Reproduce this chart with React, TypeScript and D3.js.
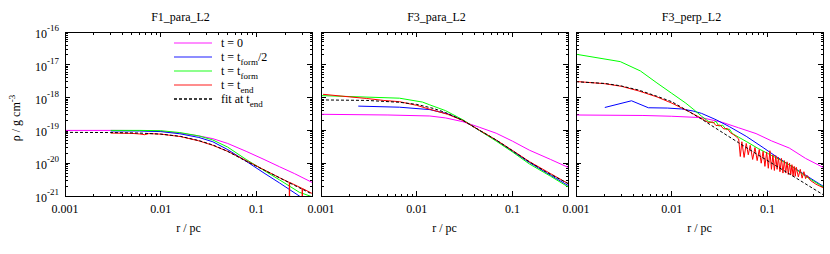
import React from 'react';
import * as d3 from 'd3';

type Pt = [number, number];

// ---------- data ----------
const panelTitles = ['F1_para_L2', 'F3_para_L2', 'F3_perp_L2'];
const xTickValues = [0.001, 0.01, 0.1];
const xTickLabels = ['0.001', '0.01', '0.1'];
const yTickExponents = [-21, -20, -19, -18, -17, -16];
const seriesColors = ['#ff00ff', '#0000ff', '#00ff00', '#ff0000', '#000000'];
const legendMain = ['t = 0', 't = t', 't = t', 't = t', 'fit at t'];
const legendSub = ['', 'form', 'form', 'end', 'end'];
const legendTail = ['', '/2', '', '', ''];

// F1_para_L2
const f1Init: Pt[] = [[0.001,1e-19],[0.003,1e-19],[0.006,9.9e-20],[0.01,9.4e-20],[0.0158,8.3e-20],[0.025,6.8e-20],[0.035,5.6e-20],[0.05,4e-20],[0.078,2.3e-20],[0.12,1.3e-20],[0.174,7.8e-21],[0.25,4.8e-21],[0.38,2.6e-21]];
const f1Half: Pt[] = [[0.003,9.6e-20],[0.006,9.6e-20],[0.01,9.2e-20],[0.0158,7.9e-20],[0.025,6.1e-20],[0.035,4.5e-20],[0.05,2.6e-20],[0.078,1.15e-20],[0.12,5e-21],[0.174,2.5e-21],[0.28,1e-21],[0.38,6.5e-22]];
const f1Form: Pt[] = [[0.003,1e-19],[0.006,1e-19],[0.01,9.8e-20],[0.0158,8.6e-20],[0.025,6.8e-20],[0.035,5.1e-20],[0.05,3.1e-20],[0.078,1.3e-20],[0.12,6e-21],[0.174,3.1e-21],[0.28,1.3e-21],[0.38,9.5e-22]];
const f1End: Pt[] = [[0.003,8.3e-20],[0.005,8.1e-20],[0.006,7.8e-20],[0.0068,7.4e-20],[0.0075,8e-20],[0.01,7.7e-20],[0.016,6.5e-20],[0.025,4.8e-20],[0.035,3.5e-20],[0.05,2.3e-20],[0.078,1.2e-20],[0.12,6.3e-21],[0.174,3.6e-21],[0.22,2.6e-21],[0.221,1e-23],[0.222,2.6e-21],[0.3,1.7e-21],[0.301,1e-23],[0.302,1.7e-21],[0.38,1.2e-21]];
const f1Fit: Pt[] = [[0.001,8.7e-20],[0.003,8.6e-20],[0.006,8.3e-20],[0.01,7.7e-20],[0.016,6.6e-20],[0.025,4.9e-20],[0.035,3.6e-20],[0.05,2.3e-20],[0.078,1.15e-20],[0.12,6.2e-21],[0.174,3.6e-21],[0.25,2.1e-21],[0.38,1.15e-21]];

// F3_para_L2
const f3pInit: Pt[] = [[0.001,3.1e-19],[0.005,2.95e-19],[0.0137,2.75e-19],[0.02,2.4e-19],[0.0304,1.84e-19],[0.045,1.25e-19],[0.0676,8.2e-20],[0.1,4.7e-20],[0.15,2.5e-20],[0.25,1.3e-20],[0.38,7.5e-21]];
const f3pHalf: Pt[] = [[0.00245,5.5e-19],[0.0066,5.1e-19],[0.0137,4.3e-19],[0.021,3.2e-19],[0.0304,2.05e-19],[0.045,1e-19],[0.0676,5e-20],[0.1,2.3e-20],[0.15,1.05e-20],[0.25,4.3e-21],[0.38,2.1e-21]];
const f3pForm: Pt[] = [[0.001,1.15e-18],[0.0066,9.6e-19],[0.0115,7.3e-19],[0.0137,6e-19],[0.02,4e-19],[0.0304,2.1e-19],[0.045,1e-19],[0.0676,4.7e-20],[0.1,2.2e-20],[0.15,9.5e-21],[0.25,4e-21],[0.38,1.9e-21]];
const f3pEnd: Pt[] = [[0.00105,1.26e-18],[0.002,1.05e-18],[0.003,9.4e-19],[0.0045,8.2e-19],[0.0066,7.5e-19],[0.01,5.8e-19],[0.0137,4.4e-19],[0.021,3.1e-19],[0.0304,2e-19],[0.045,1.02e-19],[0.0676,5.1e-20],[0.1,2.45e-20],[0.15,1.12e-20],[0.25,4.8e-21],[0.38,2.4e-21]];
const f3pFit: Pt[] = [[0.001,8.5e-19],[0.003,8.2e-19],[0.0066,7.2e-19],[0.01,6.2e-19],[0.0148,4.7e-19],[0.02,3.5e-19],[0.0304,2e-19],[0.045,1.02e-19],[0.0676,5.1e-20],[0.1,2.4e-20],[0.15,1.1e-20],[0.22,5.6e-21],[0.38,2.4e-21]];

// F3_perp_L2
const f3nInit: Pt[] = [[0.001,2.95e-19],[0.005,2.85e-19],[0.01,2.7e-19],[0.0205,2.45e-19],[0.034,1.75e-19],[0.05,1.2e-19],[0.076,8e-20],[0.11,4.8e-20],[0.169,2.9e-20],[0.25,1.4e-20],[0.38,7.5e-21]];
const f3nHalf: Pt[] = [[0.002,5e-19],[0.0038,8e-19],[0.0057,4.9e-19],[0.009,4.8e-19],[0.0127,4.5e-19],[0.0167,3.9e-19],[0.0205,3.3e-19],[0.0292,2.1e-19],[0.04,1.3e-19],[0.06,6.6e-20],[0.09,3e-20],[0.123,1.6e-20],[0.2,6.5e-21],[0.38,2e-21]];
const f3nForm: Pt[] = [[0.001,2.1e-17],[0.0029,1.25e-17],[0.0047,6.5e-18],[0.007,2.8e-18],[0.01,1.35e-18],[0.014,6.8e-19],[0.017,4.3e-19],[0.0205,2.7e-19],[0.024,1.9e-19],[0.027,1.7e-19],[0.029,1.9e-19],[0.031,1.35e-19],[0.034,1.45e-19],[0.037,1.05e-19],[0.04,1.1e-19],[0.043,8e-20],[0.05,6.2e-20],[0.06,4.6e-20],[0.08,2.8e-20],[0.1,2e-20],[0.13,1.35e-20],[0.18,8e-21],[0.25,4e-21],[0.38,1.9e-21]];
const f3nEnd: Pt[] = [[0.001,3.1e-18],[0.002,2.65e-18],[0.003,2.2e-18],[0.0045,1.6e-18],[0.007,1.05e-18],[0.01,6.8e-19],[0.015,3.8e-19],[0.02,2.4e-19],[0.024,1.75e-19],[0.027,1.8e-19],[0.029,1.4e-19],[0.032,1.45e-19],[0.035,1.1e-19],[0.038,1.15e-19],[0.041,8.5e-20],[0.044,7.5e-20],[0.047,6.5e-20],[0.05,5.5e-20],[0.052,1.6e-20],[0.054,4.5e-20],[0.057,1.5e-20],[0.06,4e-20],[0.063,1.8e-20],[0.066,3.5e-20],[0.07,1.3e-20],[0.074,3e-20],[0.078,1.2e-20],[0.082,2.6e-20],[0.086,1e-20],[0.09,2.3e-20],[0.094,8e-21],[0.098,2.2e-20],[0.102,7e-21],[0.106,2.4e-20],[0.11,6.5e-21],[0.114,1.8e-20],[0.118,6e-21],[0.122,1.7e-20],[0.126,6.5e-21],[0.13,1.5e-20],[0.135,5.5e-21],[0.14,1.4e-20],[0.145,5e-21],[0.15,1.2e-20],[0.155,5e-21],[0.16,1.1e-20],[0.165,4.5e-21],[0.17,1e-20],[0.175,4.5e-21],[0.18,9e-21],[0.185,4e-21],[0.19,8e-21],[0.195,4e-21],[0.2,7.5e-21],[0.21,3.8e-21],[0.22,6.5e-21],[0.23,3.5e-21],[0.24,5.5e-21],[0.25,3.4e-21],[0.26,4.2e-21],[0.28,3e-21],[0.32,2.3e-21],[0.38,1.8e-21]];
const f3nFit: Pt[] = [[0.001,3.05e-18],[0.002,2.7e-18],[0.0029,2.3e-18],[0.0045,1.7e-18],[0.007,1.1e-18],[0.01,7.5e-19],[0.015,3.8e-19],[0.0205,2.2e-19],[0.0316,9.8e-20],[0.05,4.2e-20],[0.076,1.95e-20],[0.123,8.3e-21],[0.2,3.5e-21],[0.38,1.1e-21]];

const panelSeries: Pt[][][] = [
  [f1Init, f1Half, f1Form, f1End, f1Fit],
  [f3pInit, f3pHalf, f3pForm, f3pEnd, f3pFit],
  [f3nInit, f3nHalf, f3nForm, f3nEnd, f3nFit],
];

// ---------- layout ----------
const W = 830, H = 254;
const panelLeft = [65, 321, 576];
const panelW = 247;
const top = 32, bottom = 196;
const FONT = "Liberation Serif, DejaVu Serif, serif";
const txt: React.CSSProperties = { fontFamily: FONT };

const yScale = d3.scaleLog().domain([1e-21, 1e-16]).range([bottom, top]);

function Panel({ idx }: { idx: number }) {
  const left = panelLeft[idx];
  const right = left + panelW;
  const x = d3.scaleLog().domain([0.001, 0.38]).range([left, right]);
  const line = d3.line<Pt>().x(d => x(d[0])).y(d => yScale(Math.max(d[1], 1e-30)));
  const clipId = `clip${idx}`;
  const xMinor: number[] = [];
  [0.001, 0.01, 0.1].forEach(b => { for (let k = 2; k <= 9; k++) { const v = b * k; if (v <= 0.38) xMinor.push(v); } });
  const yMinor: number[] = [];
  for (let e = -21; e < -16; e++) for (let k = 2; k <= 9; k++) yMinor.push(k * Math.pow(10, e));
  const major = 5, minor = 2.5;
  return (
    <g>
      <defs>
        <clipPath id={clipId}><rect x={left} y={top} width={panelW} height={bottom - top} /></clipPath>
      </defs>
      <text x={(left + right) / 2 - 8} y={21} textAnchor="middle" fontSize={12} style={txt}>{panelTitles[idx]}</text>
      <g stroke="#000" strokeWidth={1} shapeRendering="crispEdges">
        {xTickValues.map(v => (
          <g key={'xM' + v}>
            <line x1={x(v)} x2={x(v)} y1={bottom} y2={bottom - major} />
            <line x1={x(v)} x2={x(v)} y1={top} y2={top + major} />
          </g>
        ))}
        {xMinor.map(v => (
          <g key={'xm' + v}>
            <line x1={x(v)} x2={x(v)} y1={bottom} y2={bottom - minor} />
            <line x1={x(v)} x2={x(v)} y1={top} y2={top + minor} />
          </g>
        ))}
        {yTickExponents.map(e => (
          <g key={'yM' + e}>
            <line x1={left} x2={left + major} y1={yScale(Math.pow(10, e))} y2={yScale(Math.pow(10, e))} />
            <line x1={right} x2={right - major} y1={yScale(Math.pow(10, e))} y2={yScale(Math.pow(10, e))} />
          </g>
        ))}
        {yMinor.map((v, i) => (
          <g key={'ym' + i}>
            <line x1={left} x2={left + minor} y1={yScale(v)} y2={yScale(v)} />
            <line x1={right} x2={right - minor} y1={yScale(v)} y2={yScale(v)} />
          </g>
        ))}
      </g>
      {xTickValues.map((v, i) => (
        <text key={'xl' + v} x={x(v)} y={213} textAnchor="middle" fontSize={12} style={txt}>{xTickLabels[i]}</text>
      ))}
      {idx === 0 && yTickExponents.map(e => (
        <text key={'yl' + e} x={59} y={yScale(Math.pow(10, e)) + 6} textAnchor="end" fontSize={12} style={txt}>
          10<tspan dy={-7} fontSize={9}>{String(e)}</tspan>
        </text>
      ))}
      <text x={(left + right) / 2} y={232} textAnchor="middle" fontSize={12} style={txt}>r / pc</text>
      <g clipPath={`url(#${clipId})`} fill="none">
        {panelSeries[idx].map((s, i) => (
          <path key={'s' + i} d={line(s) || ''} stroke={seriesColors[i]} strokeWidth={1}
            strokeDasharray={i === 4 ? '3,2' : undefined} />
        ))}
      </g>
      <rect x={left} y={top} width={panelW} height={bottom - top} fill="none" stroke="#000" strokeWidth={1} shapeRendering="crispEdges" />
    </g>
  );
}

function Legend() {
  const x0 = 174, x1 = 212, tx = 221;
  return (
    <g>
      {legendMain.map((m, i) => {
        const y = 43 + i * 14;
        return (
          <g key={'lg' + i}>
            <line x1={x0} x2={x1} y1={y} y2={y} stroke={seriesColors[i]} strokeWidth={1.5}
              strokeOpacity={i === 4 ? 1 : 0.6} strokeDasharray={i === 4 ? '3,2' : undefined} />
            <text x={tx} y={y + 4} fontSize={12} style={txt}>
              {m}
              {legendSub[i] && <tspan dy={3.5} fontSize={9}>{legendSub[i]}</tspan>}
              {legendTail[i] && <tspan dy={-3.5} fontSize={12}>{legendTail[i]}</tspan>}
            </text>
          </g>
        );
      })}
    </g>
  );
}

export default function App() {
  return (
    <svg width={W} height={H} style={{ position: 'absolute', left: 0, top: 0, background: '#fff' }}>
      <rect x={0} y={0} width={W} height={H} fill="#fff" />
      {[0, 1, 2].map(i => <Panel key={i} idx={i} />)}
      <Legend />
      <text transform={`translate(20,118) rotate(-90)`} textAnchor="middle" fontSize={12} style={txt}>
        ρ / g cm<tspan dy={-5} fontSize={9}>-3</tspan>
      </text>
    </svg>
  );
}
